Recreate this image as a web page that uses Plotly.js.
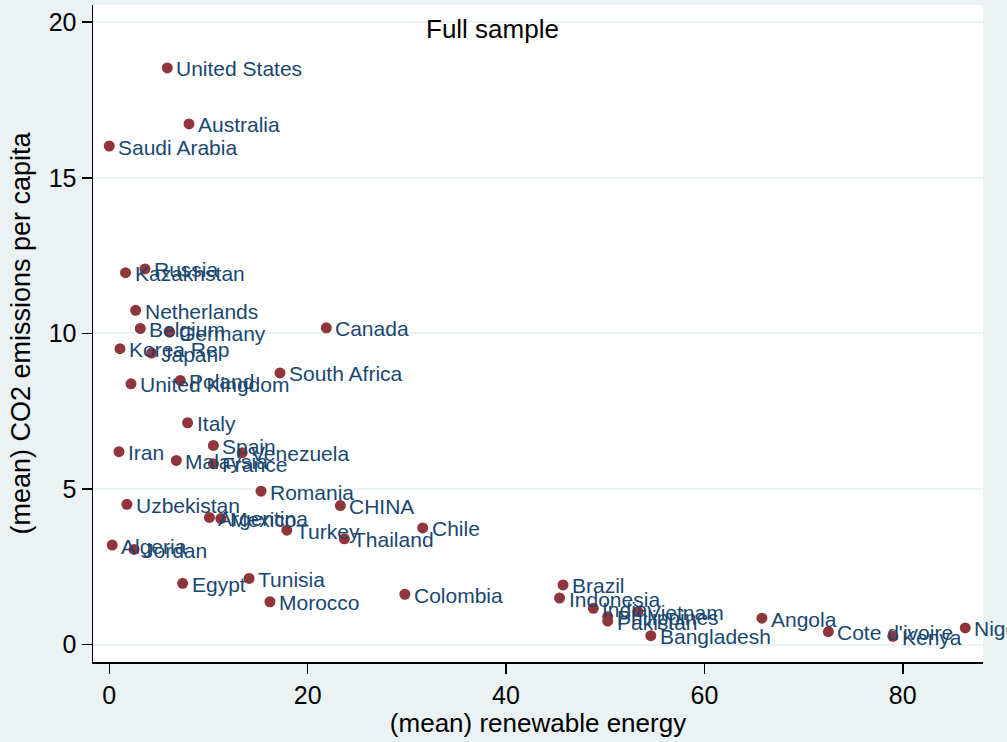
<!DOCTYPE html>
<html>
<head>
<meta charset="utf-8">
<script src="https://cdn.plot.ly/plotly-3.0.1.min.js"></script>
<style>
html,body{margin:0;padding:0;background:#eaf2f3;}
#chart{width:1007px;height:742px;}
</style>
</head>
<body>
<div id="chart"></div>
<script>
const countries = ["United States","Australia","Saudi Arabia","Kazakhstan","Russia","Netherlands","Belgium","Germany","Canada","Korea Rep","Japan","South Africa","United Kingdom","Poland","Italy","Iran","Spain","Venezuela","Malaysia","France","Romania","CHINA","Uzbekistan","Argentina","Mexico","Turkey","Thailand","Chile","Algeria","Jordan","Egypt","Tunisia","Morocco","Colombia","Brazil","Indonesia","India","Vietnam","Philippines","Pakistan","Bangladesh","Angola","Cote d'ivoire","Kenya","Nigeria"];
const renewable = [5.85,8.04,0.0,1.64,3.6,2.66,3.13,6.09,21.88,1.08,4.27,17.21,2.19,7.16,7.9,0.98,10.5,13.4,6.76,10.5,15.3,23.3,1.78,10.1,11.25,17.9,23.7,31.6,0.3,2.5,7.4,14.1,16.2,29.8,45.75,45.4,48.8,53.3,50.25,50.25,54.6,65.8,72.5,79.0,86.3];
const co2 = [18.53,16.73,16.02,11.95,12.07,10.74,10.16,10.04,10.18,9.51,9.37,8.73,8.38,8.49,7.13,6.20,6.40,6.17,5.92,5.81,4.93,4.47,4.51,4.09,4.05,3.68,3.40,3.75,3.20,3.06,1.97,2.13,1.38,1.62,1.92,1.50,1.17,1.06,0.90,0.76,0.29,0.85,0.42,0.27,0.54];
const xTicks = [0,20,40,60,80];
const yTicks = [0,5,10,15,20];

const FONT = "Liberation Sans, Arial, sans-serif";

const trace = {
  type: "scatter",
  mode: "markers",
  x: renewable,
  y: co2,
  cliponaxis: false,
  marker: {color: "#90353b", size: 11, line: {width: 0}},
  hoverinfo: "none"
};

const labelAnnotations = countries.map((name, i) => ({
  x: renewable[i],
  y: co2[i],
  xref: "x", yref: "y",
  text: name,
  showarrow: false,
  xanchor: "left",
  yanchor: "middle",
  xshift: 8,
  yshift: -1,
  borderpad: 0,
  font: {family: FONT, size: 21, color: "#1a476f"}
}));

const layout = {
  width: 1007,
  height: 742,
  paper_bgcolor: "#eaf2f3",
  plot_bgcolor: "#ffffff",
  showlegend: false,
  font: {family: FONT, color: "#000000", size: 25},
  margin: {l: 93, r: 24, t: 5, b: 80},
  xaxis: {
    range: [-1.64, 88.09],
    tickvals: xTicks,
    ticktext: xTicks.map(String),
    ticks: "outside",
    ticklen: 10,
    tickwidth: 1.5,
    tickcolor: "#000000",
    showline: true,
    linecolor: "#000000",
    linewidth: 1.5,
    showgrid: false,
    zeroline: false,
    tickfont: {size: 25},
    title: {text: "(mean) renewable energy", font: {size: 26}, standoff: 6}
  },
  yaxis: {
    range: [-0.556, 20.55],
    tickvals: yTicks,
    ticktext: yTicks.map(String),
    ticks: "outside",
    ticklen: 10,
    tickwidth: 1.5,
    tickcolor: "#000000",
    showline: true,
    linecolor: "#000000",
    linewidth: 1.5,
    showgrid: true,
    gridcolor: "#eaf2f3",
    gridwidth: 2,
    zeroline: false,
    tickfont: {size: 25},
    title: {text: "(mean) CO2 emissions per capita", font: {size: 27}, standoff: 10}
  },
  annotations: [{
    text: "Full sample",
    xref: "paper", yref: "paper",
    x: 0.449, y: 0.9635,
    xanchor: "center", yanchor: "middle",
    showarrow: false,
    font: {size: 26, color: "#000000"}
  }].concat(labelAnnotations)
};

Plotly.newPlot("chart", [trace], layout, {displayModeBar: false, staticPlot: true});
</script>
</body>
</html>
